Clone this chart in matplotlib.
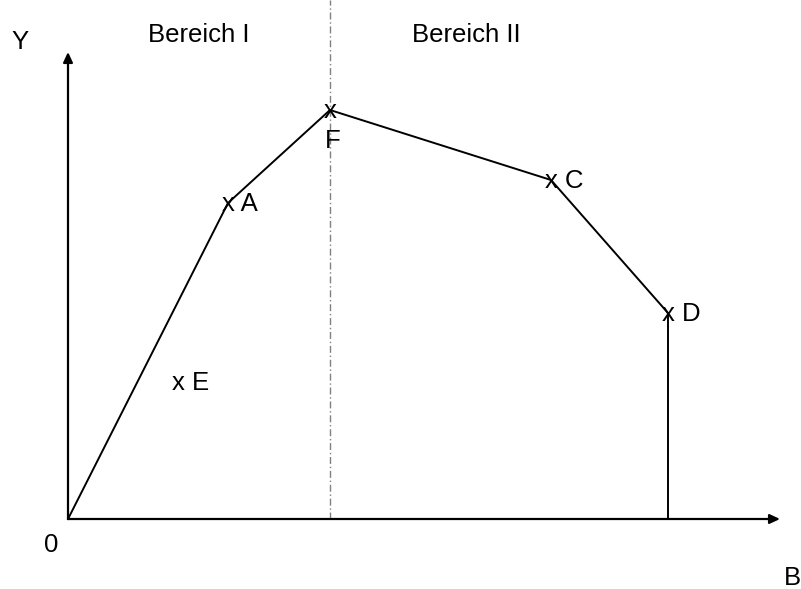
import matplotlib.pyplot as plt

plt.rcParams['font.family'] = ['Liberation Sans', 'DejaVu Sans']

# Kurve (Ursprung -> A -> F -> C -> D -> Achse)
curve_x = [0, 160, 262, 483, 600, 600]
curve_y = [0, 316, 409, 339, 206, 0]

# markierte Punkte
pt_names = ["A", "F", "C", "D", "E"]
pt_x = [160, 262, 483, 600, 110]
pt_y = [316, 409, 339, 206, 137]

# Bereichsgrenze bei F
border_x = 262

fs = 18.5
xh = 0.31 * fs * 100 / 72  # Versatz Grundlinie -> Mitte des "x" in Pixeln
xw = 0.25 * fs * 100 / 72  # halbe Breite des "x"

fig = plt.figure(figsize=(8.01, 5.89), dpi=100)
ax = fig.add_axes([0, 0, 1, 1])
ax.set_xlim(-68, 733)
ax.set_ylim(-70, 519)
ax.axis('off')

# Achsen mit Pfeilen
arrow = dict(arrowstyle="-|>,head_length=0.6,head_width=0.28", lw=1.6, color="black",
             shrinkA=0, shrinkB=0)
ax.annotate("", xy=(712, 0), xytext=(0, 0), arrowprops=arrow)
ax.annotate("", xy=(0, 467), xytext=(0, 0), arrowprops=arrow)

# gestrichelte Trennlinie
ax.plot([border_x, border_x], [0, 519], color="gray", lw=1, linestyle=(0, (5, 2, 1, 2)))

ax.plot(curve_x, curve_y, color="black", lw=1.4, solid_joinstyle="miter")

for name, x, y in zip(pt_names, pt_x, pt_y):
    if name == "F":
        ax.text(x, y - xh, "x", fontsize=fs, ha="center", va="baseline")
        ax.text(x + 3, 371, name, fontsize=fs, ha="center", va="baseline")
    else:
        ax.text(x - xw, y - xh, "x " + name, fontsize=fs, ha="left", va="baseline")

ax.text(-48, 470, "Y", fontsize=fs, ha="center", va="baseline")
ax.text(-17, -33, "0", fontsize=fs, ha="center", va="baseline")
ax.text(724, -66, "B", fontsize=fs, ha="center", va="baseline")
ax.text(131, 477, "Bereich I", fontsize=fs, ha="center", va="baseline")
ax.text(398, 477, "Bereich II", fontsize=fs, ha="center", va="baseline")

fig.savefig("out.png", dpi=100)
